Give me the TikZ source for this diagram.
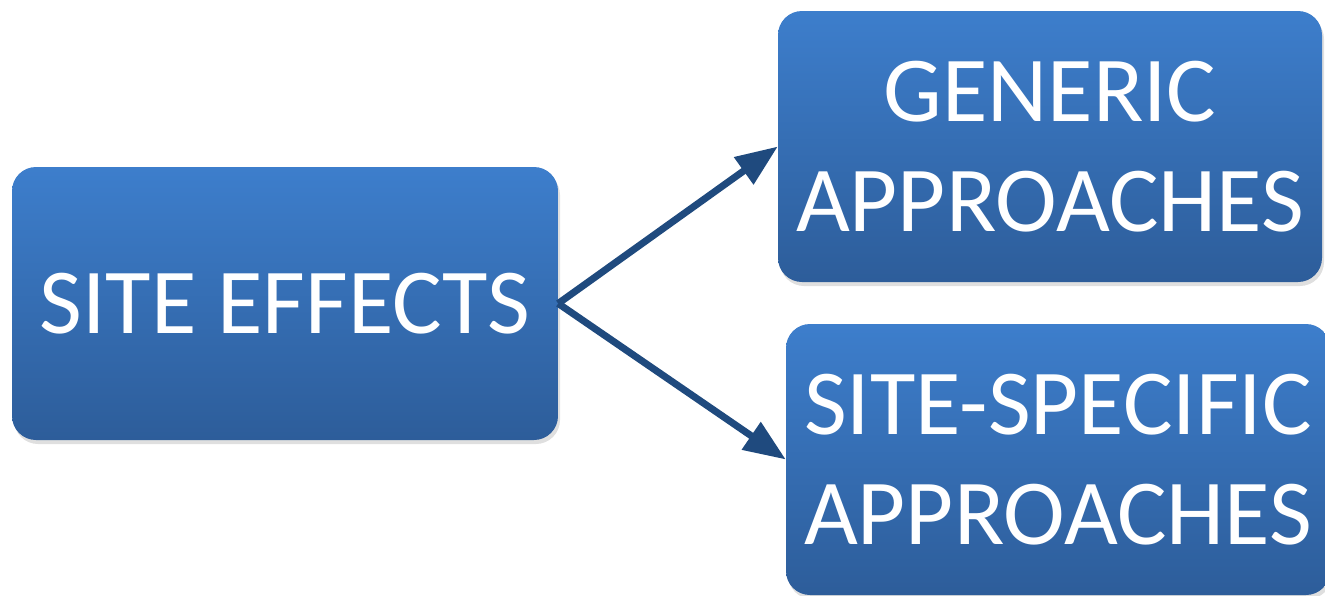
\documentclass[tikz,border=0pt]{standalone}
\usepackage{fontspec}
\newfontfamily\boxfont{Carlito}
\usetikzlibrary{arrows.meta,shadows}
\definecolor{boxtop}{HTML}{3D7ECC}
\definecolor{boxbot}{HTML}{2D5D9A}
\definecolor{arrowblue}{HTML}{1F4A7E}
\tikzset{
  bluebox/.style={rounded corners=24pt, top color=boxtop, bottom color=boxbot,
    draw=none, inner sep=0pt, align=center, text=white,
    font=\boxfont\fontsize{93}{110}\selectfont,
    drop shadow={opacity=0.25, shadow xshift=2pt, shadow yshift=-4pt}},
  bigarrow/.style={draw=arrowblue, line width=7pt,
    -{Triangle[length=42pt,width=32pt]}}
}
\begin{document}
\begin{tikzpicture}[x=1pt,y=-1pt]
\useasboundingbox (0,0) rectangle (1325,595);
\node[bluebox, minimum width=546pt, minimum height=273pt] (site) at (285,303.5) {SITE EFFECTS};
\node[bluebox, minimum width=544pt, minimum height=271pt] (generic) at (1050,146.5) {GENERIC\\APPROACHES};
\node[bluebox, minimum width=544pt, minimum height=271pt] (specific) at (1058,459.5) {SITE-SPECIFIC\\APPROACHES};
\draw[bigarrow] (site.east) -- (generic.west);
\draw[bigarrow] (site.east) -- (specific.west);
\end{tikzpicture}
\end{document}
